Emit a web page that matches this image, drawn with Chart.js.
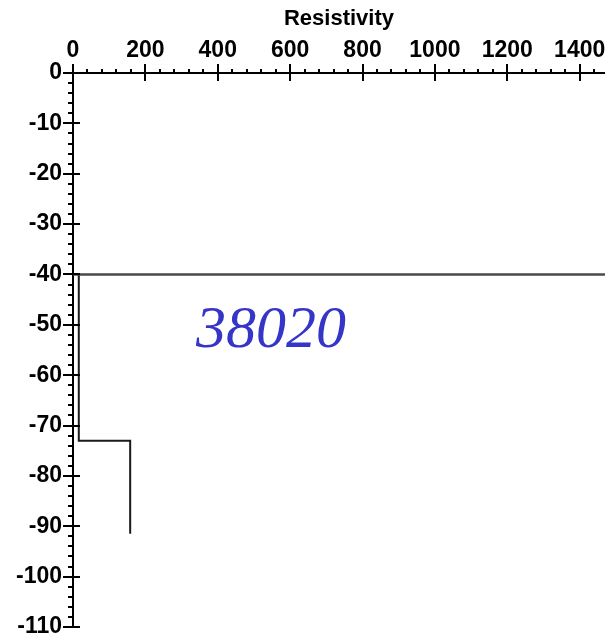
<!DOCTYPE html>
<html>
<head>
<meta charset="utf-8">
<script src="https://cdn.jsdelivr.net/npm/chart.js@4.4.1/dist/chart.umd.min.js"></script>
<style>
  html, body { margin: 0; padding: 0; background: #fff; }
  #wrap { width: 605px; height: 641px; }
</style>
</head>
<body>
<div id="wrap"><canvas id="c" width="605" height="641"></canvas></div>
<script>
// Axis ticks and ranges
const resistivityTicks = [0, 200, 400, 600, 800, 1000, 1200, 1400];
const depthTicks = [0, -10, -20, -30, -40, -50, -60, -70, -80, -90, -100, -110];
const resistivityRange = [0, 1470];
const depthRange = [-110, 0];
const resistivityMinorStep = 40;
const depthMinorStep = 2;

// Layer boundary across the whole section
const boundaryRes = [0, 1470];
const boundaryDepth = [-40, -40];

// Stepped resistivity profile below the boundary
const profileRes = [16, 16, 158, 158];
const profileDepth = [-40, -73, -73, -91.5];

// Station label
const stationLabel = '38020';
const stationLabelAt = { x: 547, y: -54.4 };

const toPoints = (xs, ys) => xs.map((v, i) => ({ x: v, y: ys[i] }));

const FONT = '"Liberation Sans", Arial, sans-serif';

// Major and minor tick marks drawn on both axes, plus the station label
const axisTicks = {
  id: 'axisTicks',
  afterDraw(chart) {
    const { ctx, chartArea: a, scales: { x, y } } = chart;
    ctx.save();
    ctx.strokeStyle = '#000';
    ctx.lineWidth = 2;
    ctx.beginPath();
    for (let v = resistivityRange[0]; v <= resistivityRange[1]; v += resistivityMinorStep) {
      const px = Math.round(x.getPixelForValue(v));
      const major = resistivityTicks.includes(v);
      ctx.moveTo(px, a.top - (major ? 9 : 4));
      ctx.lineTo(px, a.top + (major ? 8 : 1));
    }
    for (let v = depthRange[1]; v >= depthRange[0]; v -= depthMinorStep) {
      const py = Math.round(y.getPixelForValue(v));
      const major = depthTicks.includes(v);
      ctx.moveTo(a.left - (major ? 10 : 5), py);
      ctx.lineTo(a.left + (major ? 7 : 0), py);
    }
    ctx.stroke();

    ctx.font = 'italic 60px "Liberation Serif", "Times New Roman", serif';
    ctx.fillStyle = '#3535c8';
    ctx.textAlign = 'center';
    ctx.textBaseline = 'alphabetic';
    ctx.fillText(stationLabel, x.getPixelForValue(stationLabelAt.x), y.getPixelForValue(stationLabelAt.y));
    ctx.restore();
  }
};

const noPad = s => { s.paddingLeft = 0; s.paddingRight = 0; s.paddingTop = 0; s.paddingBottom = 0; };

new Chart(document.getElementById('c'), {
  type: 'scatter',
  data: {
    datasets: [
      {
        data: toPoints(boundaryRes, boundaryDepth),
        showLine: true,
        borderColor: '#4a4a4a',
        borderWidth: 2.5,
        pointRadius: 0
      },
      {
        data: toPoints(profileRes, profileDepth),
        showLine: true,
        borderColor: '#1a1a1a',
        borderWidth: 2,
        pointRadius: 0
      }
    ]
  },
  options: {
    responsive: false,
    animation: false,
    devicePixelRatio: 1,
    layout: { padding: { left: 0, right: 0, top: 0, bottom: 14 } },
    plugins: { legend: { display: false }, tooltip: { enabled: false } },
    scales: {
      x: {
        type: 'linear',
        position: 'top',
        min: resistivityRange[0],
        max: resistivityRange[1],
        afterBuildTicks: s => { s.ticks = resistivityTicks.map(v => ({ value: v })); },
        afterFit: s => { s.height = 73; noPad(s); },
        grid: { display: false },
        border: { display: true, color: '#000', width: 2 },
        ticks: {
          autoSkip: false,
          maxRotation: 0,
          padding: 1,
          color: '#000',
          callback: v => String(v),
          font: { family: FONT, size: 23, weight: 'bold' }
        },
        title: {
          display: true,
          text: 'Resistivity',
          color: '#000',
          padding: { top: 6, bottom: 0 },
          font: { family: FONT, size: 22, weight: 'bold' }
        }
      },
      y: {
        type: 'linear',
        position: 'left',
        min: depthRange[0],
        max: depthRange[1],
        afterBuildTicks: s => { s.ticks = depthTicks.map(v => ({ value: v })); },
        afterFit: s => { s.width = 73; noPad(s); },
        grid: { display: false },
        border: { display: true, color: '#000', width: 2 },
        ticks: {
          autoSkip: false,
          padding: 3,
          color: '#000',
          callback: v => String(v),
          font: { family: FONT, size: 23, weight: 'bold' }
        }
      }
    }
  },
  plugins: [axisTicks]
});
</script>
</body>
</html>
